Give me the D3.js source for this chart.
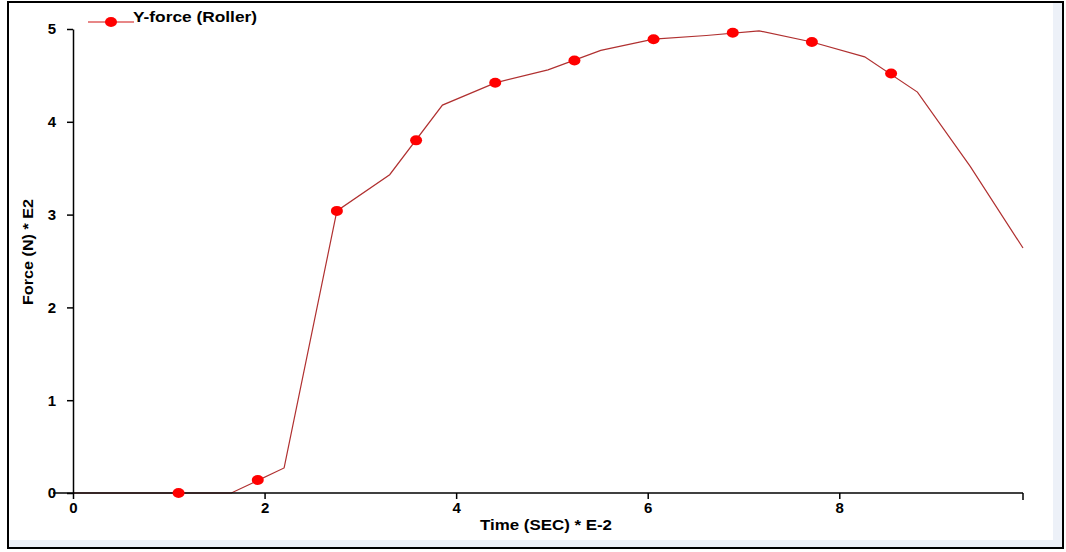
<!DOCTYPE html>
<html>
<head>
<meta charset="utf-8">
<script src="https://cdn.jsdelivr.net/npm/d3@7"></script>
<style>
  html, body { margin: 0; padding: 0; background: #ffffff; }
  svg { display: block; }
  text { font-family: "Liberation Sans", Arial, sans-serif; fill: #000; }
</style>
</head>
<body>
<svg id="chart" width="1066" height="552"></svg>
<script>
// Sampled Y-force curve of the roller (time in SEC * E-2, force in N * E2)
const timeSamples  = [0, 0.551, 1.102, 1.653, 2.204, 2.755, 3.306, 3.857, 4.408, 4.959,
                      5.51, 6.061, 6.612, 7.163, 7.714, 8.265, 8.816, 9.367, 9.918];
const forceSamples = [0, 0, 0, 0, 0.27, 3.04, 3.43, 4.18, 4.42, 4.56,
                      4.77, 4.89, 4.93, 4.98, 4.86, 4.70, 4.32, 3.52, 2.64];

// Symbol markers placed along the curve
const markerTimes  = [1.102, 1.929, 2.755, 3.582, 4.408, 5.235, 6.061, 6.888, 7.714, 8.541];
const markerForces = [0, 0.14, 3.04, 3.80, 4.42, 4.66, 4.89, 4.96, 4.86, 4.52];

const xTicks = [0, 2, 4, 6, 8];
const yTicks = [0, 1, 2, 3, 4, 5];
const seriesName = "Y-force (Roller)";
const xTitle = "Time (SEC) * E-2";
const yTitle = "Force (N) * E2";

const svg = d3.select("#chart");

// frame: light band on right/bottom edges and a black outline
svg.append("rect").attr("x", 8).attr("y", 2).attr("width", 1055).attr("height", 545)
  .attr("fill", "#edf1f8");
svg.append("rect").attr("x", 8).attr("y", 2).attr("width", 1045).attr("height", 538)
  .attr("fill", "#ffffff");
svg.append("rect").attr("x", 8).attr("y", 2).attr("width", 1055).attr("height", 546)
  .attr("fill", "none").attr("stroke", "#000").attr("stroke-width", 2);

const x = d3.scaleLinear().domain([0, 9.918]).range([73, 1023]);
const y = d3.scaleLinear().domain([0, 5]).range([493, 29]);

const data = timeSamples.map((t, i) => [t, forceSamples[i]]);
const markers = markerTimes.map((t, i) => [t, markerForces[i]]);

// curve
svg.append("path")
  .datum(data)
  .attr("fill", "none")
  .attr("stroke", "#b03030")
  .attr("stroke-width", 1.2)
  .attr("d", d3.line().x(d => x(d[0])).y(d => y(d[1])));

// x axis (extends a little left of the y axis)
const xAxis = d3.axisBottom(x).tickValues(xTicks).tickSize(6).tickSizeOuter(0)
  .tickFormat(d3.format("d"));
const gx = svg.append("g").attr("transform", `translate(0,${y(0)})`).call(xAxis);
gx.select(".domain").remove();
gx.append("line").attr("x1", 53).attr("x2", x(9.918)).attr("y1", 0).attr("y2", 0)
  .attr("stroke", "#000").attr("stroke-width", 1.5);
gx.append("line").attr("x1", x(9.918)).attr("x2", x(9.918)).attr("y1", 0).attr("y2", 7)
  .attr("stroke", "#000").attr("stroke-width", 1.5);
gx.selectAll(".tick line").attr("stroke", "#000").attr("stroke-width", 1.5);
gx.selectAll(".tick text")
  .attr("y", 9)
  .style("font-family", "'Liberation Sans', Arial, sans-serif")
  .style("font-size", "15px").style("font-weight", "bold").attr("fill", "#000");

// y axis
const yAxis = d3.axisLeft(y).tickValues(yTicks).tickSize(6).tickSizeOuter(0)
  .tickFormat(d3.format("d"));
const gy = svg.append("g").attr("transform", `translate(${x(0)},0)`).call(yAxis);
gy.select(".domain").attr("stroke", "#000").attr("stroke-width", 1.5);
gy.selectAll(".tick line").attr("stroke", "#000").attr("stroke-width", 1.5);
gy.selectAll(".tick text")
  .attr("x", -17)
  .style("font-family", "'Liberation Sans', Arial, sans-serif")
  .style("font-size", "15px").style("font-weight", "bold").attr("fill", "#000");

// markers
svg.append("g").selectAll("ellipse")
  .data(markers)
  .join("ellipse")
  .attr("cx", d => x(d[0]))
  .attr("cy", d => y(d[1]))
  .attr("rx", 6).attr("ry", 5)
  .attr("fill", "#ff0000");

// legend
const lg = svg.append("g");
lg.append("line").attr("x1", 88).attr("x2", 134).attr("y1", 22).attr("y2", 22)
  .attr("stroke", "#d01010").attr("stroke-width", 1.2);
lg.append("ellipse").attr("cx", 111).attr("cy", 22).attr("rx", 6).attr("ry", 5)
  .attr("fill", "#ff0000");
lg.append("text").attr("x", 133).attr("y", 22)
  .attr("textLength", 124).attr("lengthAdjust", "spacingAndGlyphs")
  .style("font-size", "15px").style("font-weight", "bold")
  .text(seriesName);

// axis titles
svg.append("text")
  .attr("x", 546).attr("y", 530)
  .attr("text-anchor", "middle")
  .attr("textLength", 132).attr("lengthAdjust", "spacingAndGlyphs")
  .style("font-size", "15px").style("font-weight", "bold")
  .text(xTitle);

svg.append("text")
  .attr("transform", "translate(33,252) rotate(-90)")
  .attr("text-anchor", "middle")
  .attr("textLength", 106).attr("lengthAdjust", "spacingAndGlyphs")
  .style("font-size", "15px").style("font-weight", "bold")
  .text(yTitle);
</script>
</body>
</html>
